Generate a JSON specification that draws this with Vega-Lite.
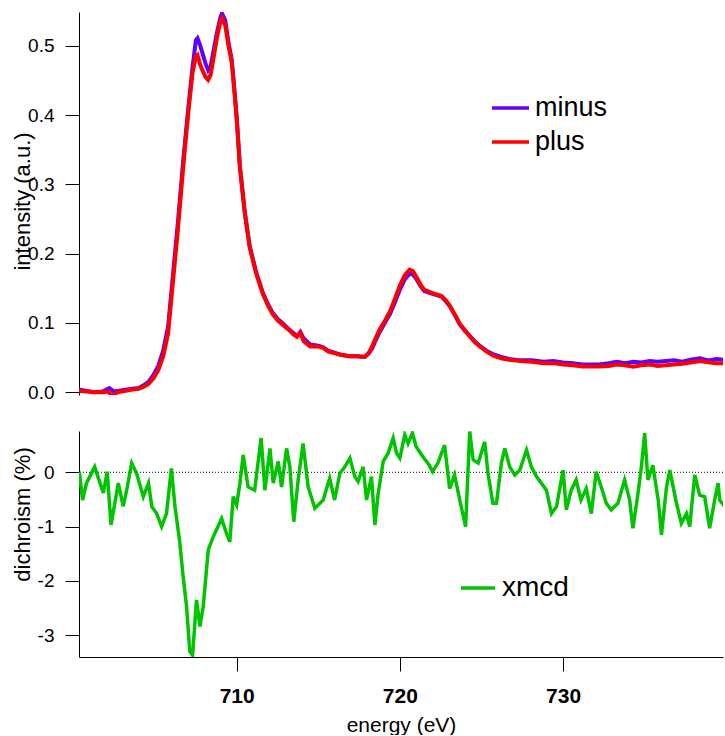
{
 "$schema": "https://vega.github.io/schema/vega-lite/v6.json",
 "padding": {"left": 11, "top": 12, "right": 2, "bottom": 0},
 "bounds": "flush",
 "spacing": 36,
 "config": {
  "font": "Liberation Sans",
  "view": {"stroke": null},
  "axis": {"grid": false, "domainColor": "#000", "tickColor": "#000", "labelColor": "#000", "titleColor": "#000", "tickSize": 14, "labelFont": "Liberation Sans", "titleFont": "Liberation Sans", "titleFontWeight": "normal"}
 },
 "datasets": {
  "spec": [
   {"E":700.34,"I":0.004,"s":"minus"},{"E":700.8,"I":0.002,"s":"minus"},{"E":701.3,"I":0.0,"s":"minus"},{"E":701.8,"I":0.001,"s":"minus"},{"E":702.2,"I":0.006,"s":"minus"},{"E":702.5,"I":0.001,"s":"minus"},{"E":703.0,"I":0.003,"s":"minus"},{"E":703.6,"I":0.005,"s":"minus"},{"E":704.0,"I":0.006,"s":"minus"},{"E":704.3,"I":0.010,"s":"minus"},{"E":704.6,"I":0.015,"s":"minus"},{"E":704.9,"I":0.025,"s":"minus"},{"E":705.2,"I":0.038,"s":"minus"},{"E":705.5,"I":0.060,"s":"minus"},{"E":705.8,"I":0.095,"s":"minus"},{"E":706.1,"I":0.170,"s":"minus"},{"E":706.4,"I":0.245,"s":"minus"},{"E":706.7,"I":0.328,"s":"minus"},{"E":706.9,"I":0.378,"s":"minus"},{"E":707.1,"I":0.425,"s":"minus"},{"E":707.3,"I":0.470,"s":"minus"},{"E":707.5,"I":0.508,"s":"minus"},{"E":707.6,"I":0.511,"s":"minus"},{"E":707.75,"I":0.502,"s":"minus"},{"E":707.9,"I":0.490,"s":"minus"},{"E":708.1,"I":0.474,"s":"minus"},{"E":708.25,"I":0.465,"s":"minus"},{"E":708.4,"I":0.470,"s":"minus"},{"E":708.6,"I":0.495,"s":"minus"},{"E":708.8,"I":0.520,"s":"minus"},{"E":709.0,"I":0.541,"s":"minus"},{"E":709.1,"I":0.547,"s":"minus"},{"E":709.3,"I":0.537,"s":"minus"},{"E":709.5,"I":0.505,"s":"minus"},{"E":709.7,"I":0.480,"s":"minus"},{"E":709.85,"I":0.440,"s":"minus"},{"E":710.0,"I":0.398,"s":"minus"},{"E":710.2,"I":0.326,"s":"minus"},{"E":710.5,"I":0.260,"s":"minus"},{"E":710.8,"I":0.211,"s":"minus"},{"E":711.2,"I":0.173,"s":"minus"},{"E":711.6,"I":0.144,"s":"minus"},{"E":711.9,"I":0.128,"s":"minus"},{"E":712.2,"I":0.115,"s":"minus"},{"E":712.5,"I":0.106,"s":"minus"},{"E":712.8,"I":0.100,"s":"minus"},{"E":713.2,"I":0.091,"s":"minus"},{"E":713.5,"I":0.085,"s":"minus"},{"E":713.7,"I":0.081,"s":"minus"},{"E":713.9,"I":0.087,"s":"minus"},{"E":714.1,"I":0.078,"s":"minus"},{"E":714.5,"I":0.069,"s":"minus"},{"E":715.0,"I":0.067,"s":"minus"},{"E":715.3,"I":0.065,"s":"minus"},{"E":715.6,"I":0.060,"s":"minus"},{"E":715.9,"I":0.058,"s":"minus"},{"E":716.4,"I":0.054,"s":"minus"},{"E":716.9,"I":0.052,"s":"minus"},{"E":717.4,"I":0.052,"s":"minus"},{"E":717.85,"I":0.051,"s":"minus"},{"E":718.1,"I":0.056,"s":"minus"},{"E":718.3,"I":0.063,"s":"minus"},{"E":718.5,"I":0.074,"s":"minus"},{"E":718.77,"I":0.087,"s":"minus"},{"E":719.1,"I":0.101,"s":"minus"},{"E":719.4,"I":0.113,"s":"minus"},{"E":719.7,"I":0.130,"s":"minus"},{"E":720.0,"I":0.148,"s":"minus"},{"E":720.3,"I":0.163,"s":"minus"},{"E":720.6,"I":0.171,"s":"minus"},{"E":720.8,"I":0.170,"s":"minus"},{"E":721.0,"I":0.164,"s":"minus"},{"E":721.3,"I":0.152,"s":"minus"},{"E":721.5,"I":0.146,"s":"minus"},{"E":722.0,"I":0.142,"s":"minus"},{"E":722.55,"I":0.138,"s":"minus"},{"E":722.8,"I":0.132,"s":"minus"},{"E":723.06,"I":0.124,"s":"minus"},{"E":723.4,"I":0.110,"s":"minus"},{"E":723.67,"I":0.098,"s":"minus"},{"E":724.0,"I":0.088,"s":"minus"},{"E":724.3,"I":0.081,"s":"minus"},{"E":724.6,"I":0.073,"s":"minus"},{"E":724.9,"I":0.067,"s":"minus"},{"E":725.3,"I":0.060,"s":"minus"},{"E":725.7,"I":0.055,"s":"minus"},{"E":726.2,"I":0.051,"s":"minus"},{"E":726.7,"I":0.048,"s":"minus"},{"E":727.4,"I":0.046,"s":"minus"},{"E":728.1,"I":0.046,"s":"minus"},{"E":728.8,"I":0.044,"s":"minus"},{"E":729.4,"I":0.045,"s":"minus"},{"E":730.0,"I":0.043,"s":"minus"},{"E":730.6,"I":0.042,"s":"minus"},{"E":731.2,"I":0.040,"s":"minus"},{"E":731.8,"I":0.040,"s":"minus"},{"E":732.2,"I":0.040,"s":"minus"},{"E":732.8,"I":0.042,"s":"minus"},{"E":733.3,"I":0.044,"s":"minus"},{"E":733.8,"I":0.042,"s":"minus"},{"E":734.3,"I":0.044,"s":"minus"},{"E":734.8,"I":0.043,"s":"minus"},{"E":735.3,"I":0.045,"s":"minus"},{"E":735.8,"I":0.044,"s":"minus"},{"E":736.3,"I":0.045,"s":"minus"},{"E":736.8,"I":0.046,"s":"minus"},{"E":737.3,"I":0.044,"s":"minus"},{"E":737.8,"I":0.047,"s":"minus"},{"E":738.4,"I":0.049,"s":"minus"},{"E":738.9,"I":0.046,"s":"minus"},{"E":739.4,"I":0.048,"s":"minus"},{"E":739.8,"I":0.047,"s":"minus"},
   {"E":700.34,"I":0.002,"s":"plus"},{"E":700.8,"I":0.001,"s":"plus"},{"E":701.3,"I":0.0,"s":"plus"},{"E":701.8,"I":0.0,"s":"plus"},{"E":702.1,"I":0.001,"s":"plus"},{"E":702.4,"I":-0.005,"s":"plus"},{"E":702.7,"I":0.0,"s":"plus"},{"E":703.2,"I":0.002,"s":"plus"},{"E":703.6,"I":0.004,"s":"plus"},{"E":704.0,"I":0.005,"s":"plus"},{"E":704.3,"I":0.008,"s":"plus"},{"E":704.6,"I":0.012,"s":"plus"},{"E":704.9,"I":0.020,"s":"plus"},{"E":705.2,"I":0.032,"s":"plus"},{"E":705.5,"I":0.052,"s":"plus"},{"E":705.8,"I":0.085,"s":"plus"},{"E":706.1,"I":0.160,"s":"plus"},{"E":706.4,"I":0.235,"s":"plus"},{"E":706.7,"I":0.318,"s":"plus"},{"E":706.9,"I":0.370,"s":"plus"},{"E":707.1,"I":0.418,"s":"plus"},{"E":707.3,"I":0.462,"s":"plus"},{"E":707.5,"I":0.485,"s":"plus"},{"E":707.6,"I":0.487,"s":"plus"},{"E":707.75,"I":0.474,"s":"plus"},{"E":707.9,"I":0.465,"s":"plus"},{"E":708.1,"I":0.455,"s":"plus"},{"E":708.25,"I":0.451,"s":"plus"},{"E":708.4,"I":0.458,"s":"plus"},{"E":708.6,"I":0.485,"s":"plus"},{"E":708.8,"I":0.513,"s":"plus"},{"E":709.0,"I":0.535,"s":"plus"},{"E":709.1,"I":0.540,"s":"plus"},{"E":709.3,"I":0.530,"s":"plus"},{"E":709.5,"I":0.500,"s":"plus"},{"E":709.7,"I":0.476,"s":"plus"},{"E":709.85,"I":0.438,"s":"plus"},{"E":710.0,"I":0.396,"s":"plus"},{"E":710.2,"I":0.324,"s":"plus"},{"E":710.5,"I":0.258,"s":"plus"},{"E":710.8,"I":0.209,"s":"plus"},{"E":711.2,"I":0.171,"s":"plus"},{"E":711.6,"I":0.142,"s":"plus"},{"E":711.9,"I":0.126,"s":"plus"},{"E":712.2,"I":0.113,"s":"plus"},{"E":712.5,"I":0.104,"s":"plus"},{"E":712.8,"I":0.098,"s":"plus"},{"E":713.2,"I":0.090,"s":"plus"},{"E":713.5,"I":0.083,"s":"plus"},{"E":713.7,"I":0.080,"s":"plus"},{"E":713.9,"I":0.086,"s":"plus"},{"E":714.1,"I":0.074,"s":"plus"},{"E":714.5,"I":0.066,"s":"plus"},{"E":715.0,"I":0.066,"s":"plus"},{"E":715.3,"I":0.064,"s":"plus"},{"E":715.6,"I":0.059,"s":"plus"},{"E":715.9,"I":0.057,"s":"plus"},{"E":716.4,"I":0.054,"s":"plus"},{"E":716.9,"I":0.052,"s":"plus"},{"E":717.4,"I":0.052,"s":"plus"},{"E":717.85,"I":0.051,"s":"plus"},{"E":718.1,"I":0.057,"s":"plus"},{"E":718.3,"I":0.066,"s":"plus"},{"E":718.5,"I":0.077,"s":"plus"},{"E":718.77,"I":0.091,"s":"plus"},{"E":719.1,"I":0.104,"s":"plus"},{"E":719.4,"I":0.117,"s":"plus"},{"E":719.7,"I":0.135,"s":"plus"},{"E":720.0,"I":0.154,"s":"plus"},{"E":720.3,"I":0.169,"s":"plus"},{"E":720.6,"I":0.177,"s":"plus"},{"E":720.8,"I":0.175,"s":"plus"},{"E":721.0,"I":0.167,"s":"plus"},{"E":721.3,"I":0.154,"s":"plus"},{"E":721.5,"I":0.148,"s":"plus"},{"E":722.0,"I":0.143,"s":"plus"},{"E":722.55,"I":0.139,"s":"plus"},{"E":722.8,"I":0.133,"s":"plus"},{"E":723.06,"I":0.125,"s":"plus"},{"E":723.4,"I":0.111,"s":"plus"},{"E":723.67,"I":0.099,"s":"plus"},{"E":724.0,"I":0.089,"s":"plus"},{"E":724.3,"I":0.080,"s":"plus"},{"E":724.6,"I":0.072,"s":"plus"},{"E":724.9,"I":0.066,"s":"plus"},{"E":725.3,"I":0.059,"s":"plus"},{"E":725.7,"I":0.053,"s":"plus"},{"E":726.2,"I":0.049,"s":"plus"},{"E":726.7,"I":0.047,"s":"plus"},{"E":727.4,"I":0.045,"s":"plus"},{"E":728.1,"I":0.044,"s":"plus"},{"E":728.8,"I":0.042,"s":"plus"},{"E":729.4,"I":0.042,"s":"plus"},{"E":730.0,"I":0.040,"s":"plus"},{"E":730.6,"I":0.039,"s":"plus"},{"E":731.2,"I":0.037,"s":"plus"},{"E":731.8,"I":0.037,"s":"plus"},{"E":732.2,"I":0.037,"s":"plus"},{"E":732.8,"I":0.038,"s":"plus"},{"E":733.3,"I":0.040,"s":"plus"},{"E":733.8,"I":0.039,"s":"plus"},{"E":734.3,"I":0.037,"s":"plus"},{"E":734.8,"I":0.039,"s":"plus"},{"E":735.3,"I":0.040,"s":"plus"},{"E":735.8,"I":0.038,"s":"plus"},{"E":736.3,"I":0.039,"s":"plus"},{"E":736.8,"I":0.040,"s":"plus"},{"E":737.3,"I":0.041,"s":"plus"},{"E":737.8,"I":0.043,"s":"plus"},{"E":738.4,"I":0.045,"s":"plus"},{"E":739.0,"I":0.043,"s":"plus"},{"E":739.4,"I":0.042,"s":"plus"},{"E":739.8,"I":0.042,"s":"plus"}
  ],
  "xmcd": [
   {"E":700.36,"D":0.01,"s":"xmcd"},{"E":700.56,"D":-0.51,"s":"xmcd"},{"E":700.8,"D":-0.2,"s":"xmcd"},{"E":701.3,"D":0.1,"s":"xmcd"},{"E":701.83,"D":-0.38,"s":"xmcd"},{"E":702.07,"D":0.01,"s":"xmcd"},{"E":702.3,"D":-0.97,"s":"xmcd"},{"E":702.75,"D":-0.2,"s":"xmcd"},{"E":703.05,"D":-0.63,"s":"xmcd"},{"E":703.26,"D":-0.33,"s":"xmcd"},{"E":703.57,"D":0.17,"s":"xmcd"},{"E":703.87,"D":-0.02,"s":"xmcd"},{"E":704.28,"D":-0.45,"s":"xmcd"},{"E":704.6,"D":-0.2,"s":"xmcd"},{"E":704.8,"D":-0.63,"s":"xmcd"},{"E":705.1,"D":-0.76,"s":"xmcd"},{"E":705.4,"D":-1.0,"s":"xmcd"},{"E":705.7,"D":-0.76,"s":"xmcd"},{"E":706.0,"D":0.07,"s":"xmcd"},{"E":706.22,"D":-0.63,"s":"xmcd"},{"E":706.5,"D":-1.25,"s":"xmcd"},{"E":706.7,"D":-1.86,"s":"xmcd"},{"E":706.93,"D":-2.47,"s":"xmcd"},{"E":707.13,"D":-3.3,"s":"xmcd"},{"E":707.3,"D":-3.37,"s":"xmcd"},{"E":707.54,"D":-2.35,"s":"xmcd"},{"E":707.75,"D":-2.84,"s":"xmcd"},{"E":707.95,"D":-2.47,"s":"xmcd"},{"E":708.26,"D":-1.43,"s":"xmcd"},{"E":708.56,"D":-1.19,"s":"xmcd"},{"E":709.08,"D":-0.85,"s":"xmcd"},{"E":709.35,"D":-1.1,"s":"xmcd"},{"E":709.58,"D":-1.28,"s":"xmcd"},{"E":709.79,"D":-0.45,"s":"xmcd"},{"E":710.0,"D":-0.6,"s":"xmcd"},{"E":710.2,"D":-0.2,"s":"xmcd"},{"E":710.4,"D":0.32,"s":"xmcd"},{"E":710.7,"D":-0.27,"s":"xmcd"},{"E":711.1,"D":-0.33,"s":"xmcd"},{"E":711.5,"D":0.63,"s":"xmcd"},{"E":711.73,"D":-0.33,"s":"xmcd"},{"E":712.04,"D":0.44,"s":"xmcd"},{"E":712.24,"D":-0.2,"s":"xmcd"},{"E":712.55,"D":0.2,"s":"xmcd"},{"E":712.75,"D":-0.27,"s":"xmcd"},{"E":713.06,"D":0.44,"s":"xmcd"},{"E":713.26,"D":0.1,"s":"xmcd"},{"E":713.5,"D":-0.91,"s":"xmcd"},{"E":713.77,"D":-0.14,"s":"xmcd"},{"E":714.07,"D":0.53,"s":"xmcd"},{"E":714.38,"D":-0.27,"s":"xmcd"},{"E":714.79,"D":-0.66,"s":"xmcd"},{"E":715.3,"D":-0.51,"s":"xmcd"},{"E":715.7,"D":-0.11,"s":"xmcd"},{"E":716.0,"D":-0.51,"s":"xmcd"},{"E":716.32,"D":-0.02,"s":"xmcd"},{"E":716.63,"D":0.1,"s":"xmcd"},{"E":716.94,"D":0.26,"s":"xmcd"},{"E":717.24,"D":-0.08,"s":"xmcd"},{"E":717.44,"D":-0.17,"s":"xmcd"},{"E":717.75,"D":0.1,"s":"xmcd"},{"E":717.96,"D":-0.51,"s":"xmcd"},{"E":718.26,"D":-0.08,"s":"xmcd"},{"E":718.47,"D":-0.97,"s":"xmcd"},{"E":718.67,"D":-0.39,"s":"xmcd"},{"E":718.98,"D":0.2,"s":"xmcd"},{"E":719.28,"D":0.35,"s":"xmcd"},{"E":719.59,"D":0.63,"s":"xmcd"},{"E":719.8,"D":0.35,"s":"xmcd"},{"E":720.0,"D":0.26,"s":"xmcd"},{"E":720.3,"D":0.69,"s":"xmcd"},{"E":720.5,"D":0.53,"s":"xmcd"},{"E":720.77,"D":0.72,"s":"xmcd"},{"E":721.0,"D":0.47,"s":"xmcd"},{"E":721.4,"D":0.29,"s":"xmcd"},{"E":721.8,"D":0.13,"s":"xmcd"},{"E":722.0,"D":0.01,"s":"xmcd"},{"E":722.33,"D":0.17,"s":"xmcd"},{"E":722.74,"D":0.5,"s":"xmcd"},{"E":723.05,"D":-0.3,"s":"xmcd"},{"E":723.35,"D":-0.05,"s":"xmcd"},{"E":723.67,"D":-0.51,"s":"xmcd"},{"E":724.03,"D":-1.0,"s":"xmcd"},{"E":724.28,"D":0.75,"s":"xmcd"},{"E":724.49,"D":0.23,"s":"xmcd"},{"E":724.8,"D":0.17,"s":"xmcd"},{"E":725.2,"D":0.56,"s":"xmcd"},{"E":725.4,"D":-0.02,"s":"xmcd"},{"E":725.7,"D":-0.57,"s":"xmcd"},{"E":725.92,"D":-0.57,"s":"xmcd"},{"E":726.22,"D":0.17,"s":"xmcd"},{"E":726.43,"D":0.44,"s":"xmcd"},{"E":726.73,"D":0.1,"s":"xmcd"},{"E":727.04,"D":-0.05,"s":"xmcd"},{"E":727.35,"D":0.04,"s":"xmcd"},{"E":727.76,"D":0.41,"s":"xmcd"},{"E":728.06,"D":0.1,"s":"xmcd"},{"E":728.37,"D":-0.08,"s":"xmcd"},{"E":728.67,"D":-0.2,"s":"xmcd"},{"E":728.98,"D":-0.33,"s":"xmcd"},{"E":729.29,"D":-0.76,"s":"xmcd"},{"E":729.6,"D":-0.63,"s":"xmcd"},{"E":730.0,"D":0.04,"s":"xmcd"},{"E":730.2,"D":-0.69,"s":"xmcd"},{"E":730.5,"D":-0.33,"s":"xmcd"},{"E":730.8,"D":-0.14,"s":"xmcd"},{"E":731.1,"D":-0.51,"s":"xmcd"},{"E":731.42,"D":-0.3,"s":"xmcd"},{"E":731.73,"D":-0.76,"s":"xmcd"},{"E":732.03,"D":0.01,"s":"xmcd"},{"E":732.34,"D":-0.27,"s":"xmcd"},{"E":732.65,"D":-0.57,"s":"xmcd"},{"E":732.95,"D":-0.69,"s":"xmcd"},{"E":733.36,"D":-0.57,"s":"xmcd"},{"E":733.77,"D":-0.14,"s":"xmcd"},{"E":734.08,"D":-0.51,"s":"xmcd"},{"E":734.28,"D":-1.03,"s":"xmcd"},{"E":734.59,"D":-0.39,"s":"xmcd"},{"E":734.8,"D":0.1,"s":"xmcd"},{"E":735.0,"D":0.72,"s":"xmcd"},{"E":735.2,"D":-0.14,"s":"xmcd"},{"E":735.5,"D":0.13,"s":"xmcd"},{"E":735.83,"D":-0.51,"s":"xmcd"},{"E":736.03,"D":-1.15,"s":"xmcd"},{"E":736.34,"D":-0.27,"s":"xmcd"},{"E":736.54,"D":0.04,"s":"xmcd"},{"E":736.95,"D":-0.57,"s":"xmcd"},{"E":737.25,"D":-0.94,"s":"xmcd"},{"E":737.56,"D":-0.76,"s":"xmcd"},{"E":737.76,"D":-1.0,"s":"xmcd"},{"E":738.07,"D":-0.05,"s":"xmcd"},{"E":738.37,"D":-0.42,"s":"xmcd"},{"E":738.68,"D":-0.45,"s":"xmcd"},{"E":738.98,"D":-1.03,"s":"xmcd"},{"E":739.29,"D":-0.51,"s":"xmcd"},{"E":739.5,"D":-0.2,"s":"xmcd"},{"E":739.6,"D":-0.51,"s":"xmcd"},{"E":739.9,"D":-0.63,"s":"xmcd"}
  ]
 },
 "resolve": {"scale": {"color": "independent", "y": "independent"}, "legend": {"color": "independent"}},
 "vconcat": [
  {
   "width": 644,
   "height": 383,
   "data": {"name": "spec"},
   "mark": {"type": "line", "strokeWidth": 4, "clip": true},
   "encoding": {
    "x": {"field": "E", "type": "quantitative", "scale": {"domain": [700.34, 739.8], "nice": false, "zero": false}, "axis": null},
    "y": {"field": "I", "type": "quantitative", "scale": {"domain": [-0.004, 0.549], "nice": false, "zero": false},
     "axis": {"values": [0, 0.1, 0.2, 0.3, 0.4, 0.5], "format": ".1f", "title": "intensity (a.u.)", "labelFontSize": 19, "labelPadding": 11, "titleFontSize": 22, "titleX": -57, "titleY": 189, "titleBaseline": "middle", "titleAngle": 270}},
    "color": {"field": "s", "type": "nominal", "scale": {"domain": ["minus", "plus"], "range": ["#6000ff", "#ff0000"]},
     "legend": {"title": null, "orient": "none", "legendX": 411, "legendY": 81, "symbolType": "stroke", "symbolSize": 1369, "symbolStrokeWidth": 3.5, "labelFontSize": 27, "labelOffset": 4, "clipHeight": 30, "rowPadding": 4, "padding": 0, "labelColor": "#000", "labelExpr": "datum.label == 'plus' ? '\u2002plus' : datum.label"}}
   }
  },
  {
   "width": 644,
   "height": 226,
   "layer": [
    {
     "data": {"values": [{"D": 0}]},
     "mark": {"type": "rule", "strokeDash": [1, 2], "strokeWidth": 1, "color": "#000"},
     "encoding": {"y": {"field": "D", "type": "quantitative"}}
    },
    {
     "data": {"name": "xmcd"},
     "mark": {"type": "line", "strokeWidth": 3.5, "clip": true},
     "encoding": {
      "x": {"field": "E", "type": "quantitative", "scale": {"domain": [700.34, 739.8], "nice": false, "zero": false},
       "axis": {"values": [710, 720, 730], "labelFontSize": 21, "labelFontWeight": "bold", "labelPadding": 14, "title": "energy (eV)", "titleFontSize": 21, "titleY": 57}},
      "y": {"field": "D", "type": "quantitative", "scale": {"domain": [-3.4, 0.76], "nice": false, "zero": false},
       "axis": {"values": [-3, -2, -1, 0], "labelExpr": "'' + datum.value", "title": "dichroism (%)", "labelFontSize": 19, "labelPadding": 11, "titleFontSize": 22, "titleX": -57, "titleY": 83, "titleBaseline": "middle", "titleAngle": 270}},
      "color": {"field": "s", "type": "nominal", "scale": {"domain": ["xmcd"], "range": ["#00c400"]},
       "legend": {"title": null, "orient": "none", "legendX": 380, "legendY": 142, "symbolType": "stroke", "symbolSize": 1156, "symbolStrokeWidth": 3.5, "labelFontSize": 28, "labelOffset": 5, "clipHeight": 30, "padding": 0, "labelColor": "#000"}}
     }
    }
   ]
  }
 ]
}
